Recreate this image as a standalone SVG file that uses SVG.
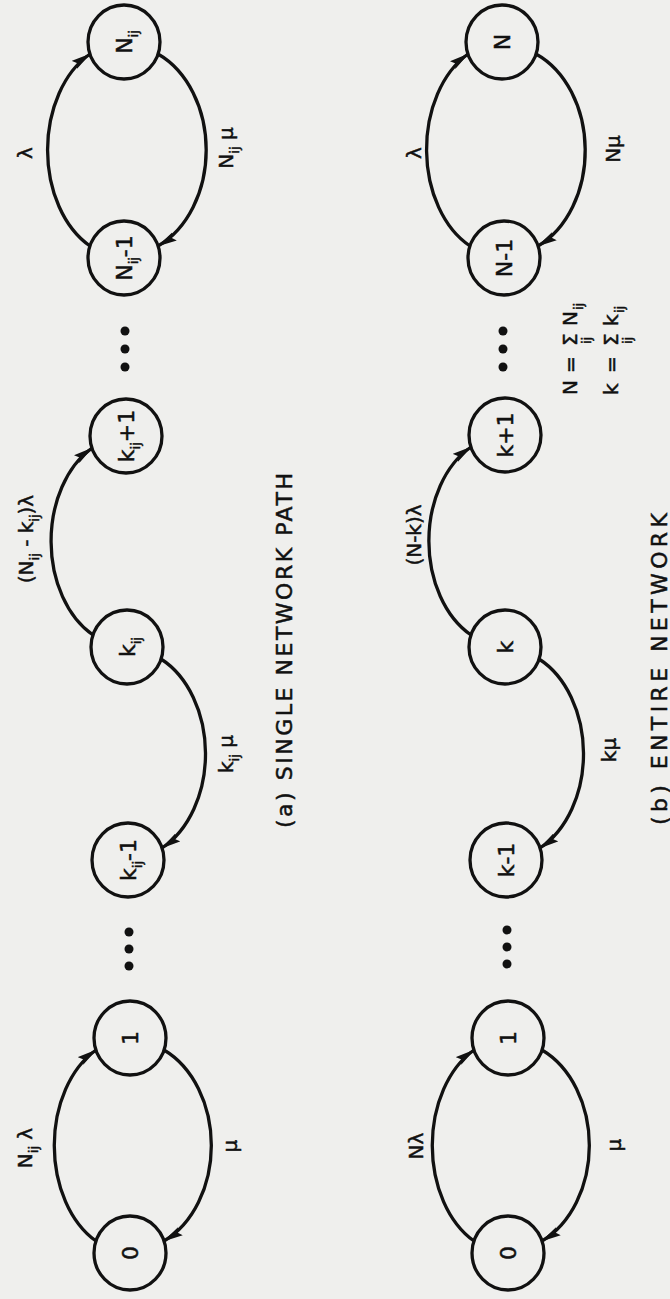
<svg xmlns="http://www.w3.org/2000/svg" width="670" height="1299" viewBox="0 0 670 1299">
  <defs>
    <style>
      .node ellipse { fill: none; stroke: #111; stroke-width: 3.3; }
      .node circle { fill: #111; stroke: none; }
      .edge { fill: none; stroke: #111; stroke-width: 3.3; marker-end: url(#head); }
      text { font-family: "DejaVu Sans", "Liberation Sans", sans-serif; fill: #111; stroke: #111; stroke-width: 0.5; }
      .nl { font-size: 22px; text-anchor: middle; }
      .el { font-size: 20px; text-anchor: middle; }
      .cap { font-size: 22px; }
      .fm { font-size: 20px; }
      .sub { font-size: 13px; }
    </style>
    <marker id="head" viewBox="0 0 20 10" refX="19" refY="5" markerWidth="20" markerHeight="10" markerUnits="userSpaceOnUse" orient="auto">
      <path d="M0 0.3 L20 5 L0 9.7 L3 5 Z" fill="#111"/>
    </marker>
  </defs>

  <rect width="670" height="1299" fill="#efefed"/>

  <!-- whole figure is laid out in landscape and turned a quarter turn -->
  <g transform="matrix(0 -1 1 0 0 1299)">

    <!-- connectors -->
    <g id="connectors">
      <!-- (a) single network path -->
      <path class="edge" d="M58 96 A107 76 0 0 1 249 96"/>
      <path class="edge" d="M249 164 A105 81 0 0 1 58 164"/>
      <path class="edge" d="M640 161 A105 78 0 0 1 451 162"/>
      <path class="edge" d="M664 93 A105 76 0 0 1 851 92"/>
      <path class="edge" d="M1053 90 A107 76 0 0 1 1245 90"/>
      <path class="edge" d="M1245 158 A105 81 0 0 1 1053 158"/>
      <!-- (b) entire network -->
      <path class="edge" d="M58 474 A107 76 0 0 1 249 474"/>
      <path class="edge" d="M249 542 A105 81 0 0 1 58 542"/>
      <path class="edge" d="M640 539 A105 78 0 0 1 451 540"/>
      <path class="edge" d="M664 471 A105 76 0 0 1 852 471"/>
      <path class="edge" d="M1053 470 A107 76 0 0 1 1245 468"/>
      <path class="edge" d="M1245 536 A105 81 0 0 1 1053 538"/>
    </g>

    <!-- connector labels -->
    <g id="edge-labels">
      <text class="el" x="151" y="32">N<tspan class="sub" dy="6">ij</tspan><tspan dy="-6"> λ</tspan></text>
      <text class="el" x="153" y="237">μ</text>
      <text class="el" x="545" y="233">k<tspan class="sub" dy="6">ij</tspan><tspan dy="-6"> μ</tspan></text>
      <text class="el" x="760" y="33">(N<tspan class="sub" dy="6">ij</tspan><tspan dy="-6"> - k</tspan><tspan class="sub" dy="6">ij</tspan><tspan dy="-6">)λ</tspan></text>
      <text class="el" x="1146" y="32">λ</text>
      <text class="el" x="1151" y="233">N<tspan class="sub" dy="6">ij</tspan><tspan dy="-6"> μ</tspan></text>

      <text class="el" x="153" y="423">Nλ</text>
      <text class="el" x="154" y="621">μ</text>
      <text class="el" x="549" y="616">kμ</text>
      <text class="el" x="764" y="421">(N-k)λ</text>
      <text class="el" x="1146" y="421">λ</text>
      <text class="el" x="1150" y="620">Nμ</text>
    </g>

    <!-- (a) single network path: states -->
    <g id="a-0" class="node"><ellipse cx="46" cy="130" rx="37" ry="36"/><text class="nl" x="46" y="138">0</text></g>
    <g id="a-1" class="node"><ellipse cx="261" cy="130" rx="37" ry="36"/><text class="nl" x="261" y="138">1</text></g>
    <g id="a-dots-low" class="node"><circle cx="333" cy="129" r="4.5"/><circle cx="350" cy="129" r="4.5"/><circle cx="367" cy="129" r="4.5"/></g>
    <g id="a-kij-1" class="node"><ellipse cx="439" cy="128" rx="37" ry="36"/><text class="nl" x="439" y="136">k<tspan class="sub" dy="6">ij</tspan><tspan dy="-6">-1</tspan></text></g>
    <g id="a-kij" class="node"><ellipse cx="652" cy="127" rx="37" ry="36"/><text class="nl" x="652" y="135">k<tspan class="sub" dy="6">ij</tspan></text></g>
    <g id="a-kij+1" class="node"><ellipse cx="863" cy="126" rx="37" ry="36"/><text class="nl" x="863" y="134">k<tspan class="sub" dy="6">ij</tspan><tspan dy="-6">+1</tspan></text></g>
    <g id="a-dots-high" class="node"><circle cx="932" cy="125" r="4.5"/><circle cx="950" cy="125" r="4.5"/><circle cx="968" cy="125" r="4.5"/></g>
    <g id="a-Nij-1" class="node"><ellipse cx="1041" cy="124" rx="37" ry="36"/><text class="nl" x="1041" y="132">N<tspan class="sub" dy="6">ij</tspan><tspan dy="-6">-1</tspan></text></g>
    <g id="a-Nij" class="node"><ellipse cx="1257" cy="124" rx="37" ry="36"/><text class="nl" x="1257" y="132">N<tspan class="sub" dy="6">ij</tspan></text></g>

    <!-- (b) entire network: states -->
    <g id="b-0" class="node"><ellipse cx="46" cy="508" rx="37" ry="36"/><text class="nl" x="46" y="516">0</text></g>
    <g id="b-1" class="node"><ellipse cx="261" cy="508" rx="37" ry="36"/><text class="nl" x="261" y="516">1</text></g>
    <g id="b-dots-low" class="node"><circle cx="335" cy="507" r="4.5"/><circle cx="352" cy="507" r="4.5"/><circle cx="369" cy="507" r="4.5"/></g>
    <g id="b-k-1" class="node"><ellipse cx="439" cy="506" rx="37" ry="36"/><text class="nl" x="439" y="514">k-1</text></g>
    <g id="b-k" class="node"><ellipse cx="652" cy="505" rx="37" ry="36"/><text class="nl" x="652" y="513">k</text></g>
    <g id="b-k+1" class="node"><ellipse cx="864" cy="505" rx="37" ry="36"/><text class="nl" x="864" y="513">k+1</text></g>
    <g id="b-dots-high" class="node"><circle cx="932" cy="503" r="4.5"/><circle cx="950" cy="503" r="4.5"/><circle cx="968" cy="503" r="4.5"/></g>
    <g id="b-N-1" class="node"><ellipse cx="1041" cy="504" rx="37" ry="36"/><text class="nl" x="1041" y="512">N-1</text></g>
    <g id="b-N" class="node"><ellipse cx="1257" cy="502" rx="37" ry="36"/><text class="nl" x="1257" y="510">N</text></g>

    <!-- captions and totals -->
    <g id="captions">
      <text class="cap" x="471" y="292" textLength="355" lengthAdjust="spacing">(a) SINGLE NETWORK PATH</text>
      <text class="cap" x="474" y="667" textLength="312" lengthAdjust="spacing">(b) ENTIRE NETWORK</text>
    </g>
    <g id="totals">
      <text class="fm" x="904" y="577">N</text>
      <text class="fm" x="926" y="577">=</text>
      <text class="fm" x="953" y="577">Σ</text>
      <text class="sub" x="955" y="591">ij</text>
      <text class="fm" x="973" y="577">N</text>
      <text class="sub" x="989" y="583">ij</text>

      <text class="fm" x="904" y="618">k</text>
      <text class="fm" x="926" y="618">=</text>
      <text class="fm" x="953" y="618">Σ</text>
      <text class="sub" x="955" y="632">ij</text>
      <text class="fm" x="973" y="618">k</text>
      <text class="sub" x="986" y="624">ij</text>
    </g>
  </g>
</svg>
